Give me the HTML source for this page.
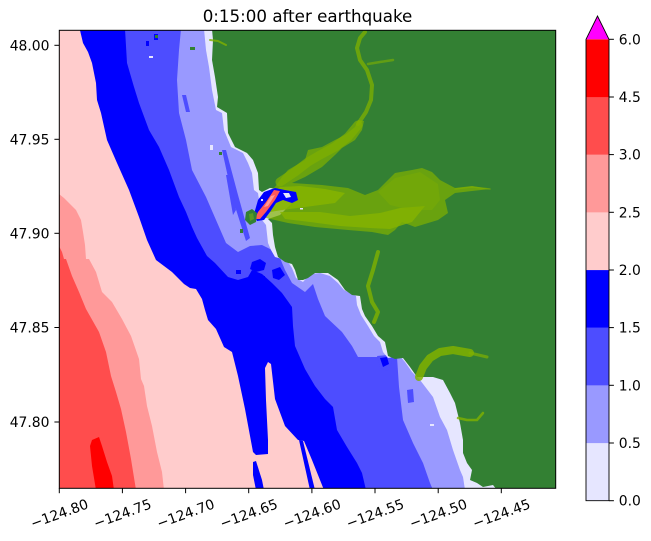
<!DOCTYPE html>
<html><head><meta charset="utf-8"><style>
html,body{margin:0;padding:0;background:#fff;}
svg{display:block;}
text{font-family:"DejaVu Sans","Liberation Sans",sans-serif;fill:#000;}
</style></head><body>
<svg width="651" height="541" viewBox="0 0 651 541" xmlns="http://www.w3.org/2000/svg">
<defs><clipPath id="pc"><rect x="59.3" y="30.3" width="496.4" height="458"/></clipPath></defs>
<rect width="651" height="541" fill="#fff"/>
<g clip-path="url(#pc)">
<rect x="59" y="30" width="498" height="460" fill="#ffcccc"/>
<polygon fill="#ff9999" points="59,194 64,198 69,203 76,210 81,220 83,232 85,245 86,259 89,259 96,272 102,292 112,302 122,319 131,336 139,359 141,379 144,386 147,406 152,426 157,452 162,472 164,490 59,490"/>
<polygon fill="#ff4d4d" points="59,246 62,252 64,259 66,259 72,276 79,292 86,309 99,332 106,352 111,376 116,392 121,409 126,432 131,459 136,490 59,490"/>
<polygon fill="#ff0000" points="90,446 92,440 99,437 102,446 107,462 112,476 114,490 96,490 92,466"/>
<polygon fill="#0000ff" points="79.7,29 83,43 88,52 92,63 96,83 97,100 101,113 107,140 117,163 129,190 139,217 147,240 156,260 172,272 184,284 190,288 196,289 202,299 205,310 208,320 216,329 224,347 232,352 238,376 245,409 253,452 256,455 268,454 268,440 266,400 265,368 268,362 271,364 275,399 285,426 298,440 304,441 312,460 318,475 324,490 557,490 557,29"/>
<polygon fill="#0000ff" points="299,440 303,441 315,490 310,490"/>
<polygon fill="#0000ff" points="253,462 256,461 262,480 264,490 256,490 253,475"/>
<polygon fill="#4d4dff" points="125,29 127,63 134,87 139,103 149,130 159,147 169,170 179,197 186,212 192,227 197,238 202,247 207,256 215,263 228,277 238,280 248,277 252,270 262,274 272,283 282,293 292,307 293,326 295,346 305,369 315,386 325,399 333,407 337,430 347,447 357,463 362,473 366,490 557,490 557,29"/>
<g fill="#0000ff">
<rect x="146" y="41" width="3" height="5"/><rect x="154" y="34" width="4" height="6"/>
<polygon points="252,262 260,259 266,263 264,270 256,272 250,269"/>
<polygon points="272,270 280,267 285,275 279,280 273,278"/>
<rect x="236" y="270" width="5" height="4"/><rect x="262" y="276" width="3" height="5"/><rect x="246" y="282" width="3" height="4"/>
</g>
<polygon fill="#9999ff" points="181,29 179,50 177,80 179,113 186,140 192,170 206,197 216,220 226,243 238,252 250,246 262,245 272,250 280,258 285,270 292,283 305,292 313,284 318,299 325,316 342,332 352,346 358,357 397,357 399,387 403,420 413,443 423,463 430,483 433,490 557,490 557,29"/>
<g fill="#4d4dff">
<polygon points="222,150 226,150 238,195 250,238 246,241 233,200"/>
<polygon points="226,175 230,175 236,210 233,215"/>
<polygon points="182,95 186,95 190,112 186,112"/>
<polygon points="407,390 413,389 414,402 408,403"/>
<polygon points="377,356 388,355 392,362 388,371 380,368"/>
</g>
<polygon fill="#0000ff" points="380,358 387,357 389,364 383,367"/>
<polygon fill="#e6e6ff" points="204,29 206,50 209,67 212,90 216,110 222,113 224,130 231,147 243,153 248,163 252,173 254,190 258,193 262,220 266,225 268,243 271,250 275,257 282,259 288,262 292,268 296,278 303,282 310,274 320,273 330,276 338,283 344,290 350,293 356,296 357,305 361,315 368,326 374,336 380,342 383,352 388,358 400,356 405,362 412,372 420,380 433,397 440,417 447,430 453,450 460,470 463,477 465,490 557,490 557,29"/>
<polygon fill="#338033" points="212,29 213,40 212,60 215,77 218,97 217,107 227,113 228,133 235,147 247,153 253,160 258,173 259,190 262,192 270,188 290,190 295,200 280,215 268,219 272,223 273,235 275,247 278,257 285,262 292,264 295,270 298,280 303,280 308,278 315,273 328,273 338,280 345,290 352,295 360,296 362,309 365,316 372,326 378,336 385,342 388,356 395,359 403,358 410,367 417,377 433,377 443,380 450,393 455,403 460,423 463,440 463,453 467,463 472,470 470,480 477,483 483,487 493,485 497,490 557,490 557,29"/>
<!-- rivers -->
<polygon fill="#80b000" opacity="0.7" points="262,196 270,190 275,187 282,177 288,170 305,160 308,150 322,147 335,140 345,135 355,127 358,120 364,121 362,130 355,140 342,148 335,155 322,167 305,177 292,183 322,185 348,188 365,195 378,190 395,173 412,170 422,168 432,172 440,180 455,188 472,186 490,189 472,191 455,193 445,200 448,213 438,220 415,227 402,222 395,230 388,235 372,232 348,230 315,227 288,223 275,220 262,217"/>
<polygon fill="#86b400" opacity="0.85" points="266,196 280,187 300,186 325,189 345,193 335,203 305,207 282,210 270,212"/>
<polygon fill="#86b400" opacity="0.8" points="280,212 320,212 350,216 380,213 400,208 425,206 412,222 390,229 370,228 340,226 310,222 285,219"/>
<polygon fill="#80b000" opacity="0.4" points="378,192 395,178 420,172 438,184 440,200 432,210 410,210 390,205"/>
<g fill="none" stroke="#80b000" stroke-linecap="round" stroke-linejoin="round">
<polyline stroke-width="9" opacity="0.7" points="280,182 295,172 308,162 320,155 335,147 348,137 358,125"/>
<polyline stroke-width="4" opacity="0.75" points="358,124 366,112 371,100 372,85 367,70 360,60 357,48 360,38 365,32"/>
<polyline stroke-width="2.5" opacity="0.6" points="368,64 380,62 393,60"/>
<polyline stroke-width="1.5" opacity="0.6" points="455,189 472,187 490,189"/>
<polyline stroke-width="4" opacity="0.8" points="378,252 373,270 368,286 372,302 378,312 374,322"/>
<polyline stroke-width="8" opacity="0.85" points="419,377 423,367 430,358 440,352 453,350 470,353"/>
<polyline stroke-width="3" opacity="0.7" points="470,353 487,357"/>
<polyline stroke-width="2.5" opacity="0.8" points="458,418 467,420 477,420 483,413"/>
<polyline stroke-width="2" opacity="0.8" points="210,40 218,41 226,45"/>
</g>
<!-- river mouth -->
<polygon fill="#0000ff" points="258,200 264,192 275,188 285,190 296,192 298,200 292,203 283,200 276,203 270,212 264,220 257,221 254,214"/>
<polygon fill="#e6e6ff" points="283,193 289,193 291,197 286,198"/>
<rect x="266" y="205" width="2" height="2" fill="#e6e6ff"/><rect x="261" y="199" width="2" height="2" fill="#e6e6ff"/>
<polygon fill="#ff5a5a" points="274,190 280,191 275,200 266,212 260,219 255,219 258,212 266,202"/>
<polygon fill="#ff9999" points="271,196 275,195 268,206 264,207"/>
<polygon fill="#338033" points="246,212 252,209 257,213 256,222 250,225 245,220"/>
<polygon fill="#5a9a22" points="249,214 253,213 254,219 250,221"/>
<g fill="#338033"><rect x="155" y="35" width="3" height="3"/><rect x="190" y="47" width="5" height="3"/><rect x="219" y="152" width="3" height="3"/><rect x="240" y="229" width="3" height="4"/></g>
<g fill="#e6e6ff"><rect x="149" y="56" width="4" height="2"/><rect x="210" y="145" width="3" height="5"/><rect x="430" y="424" width="4" height="2"/><rect x="300" y="208" width="3" height="1.5"/></g>
</g>
<rect x="59.3" y="30.3" width="496.4" height="458" fill="none" stroke="#000" stroke-width="1"/>
<!-- title -->
<text x="307.5" y="22" font-size="16.7" text-anchor="middle">0:15:00 after earthquake</text>
<!-- ticks -->
<g stroke="#000" stroke-width="1">
<line x1="54.4" y1="45.3" x2="59.3" y2="45.3"/><line x1="54.4" y1="139.3" x2="59.3" y2="139.3"/><line x1="54.4" y1="233.3" x2="59.3" y2="233.3"/><line x1="54.4" y1="327.5" x2="59.3" y2="327.5"/><line x1="54.4" y1="422" x2="59.3" y2="422"/>
<line x1="59.3" y1="488.3" x2="59.3" y2="493.2"/><line x1="122.4" y1="488.3" x2="122.4" y2="493.2"/><line x1="185.6" y1="488.3" x2="185.6" y2="493.2"/><line x1="248.7" y1="488.3" x2="248.7" y2="493.2"/><line x1="311.9" y1="488.3" x2="311.9" y2="493.2"/><line x1="375" y1="488.3" x2="375" y2="493.2"/><line x1="438.2" y1="488.3" x2="438.2" y2="493.2"/><line x1="501.3" y1="488.3" x2="501.3" y2="493.2"/>
</g>
<g font-size="13.9" text-anchor="end">
<text x="49.5" y="50.3">48.00</text><text x="49.5" y="144.3">47.95</text><text x="49.5" y="238.3">47.90</text><text x="49.5" y="332.5">47.85</text><text x="49.5" y="427">47.80</text>
</g>
<g font-size="13.9" text-anchor="middle">
<text x="59.3" y="518.5" transform="rotate(-20 59.3 513.5)">−124.80</text>
<text x="122.4" y="518.5" transform="rotate(-20 122.4 513.5)">−124.75</text>
<text x="185.6" y="518.5" transform="rotate(-20 185.6 513.5)">−124.70</text>
<text x="248.7" y="518.5" transform="rotate(-20 248.7 513.5)">−124.65</text>
<text x="311.9" y="518.5" transform="rotate(-20 311.9 513.5)">−124.60</text>
<text x="375" y="518.5" transform="rotate(-20 375 513.5)">−124.55</text>
<text x="438.2" y="518.5" transform="rotate(-20 438.2 513.5)">−124.50</text>
<text x="501.3" y="518.5" transform="rotate(-20 501.3 513.5)">−124.45</text>
</g>
<!-- colorbar -->
<rect x="586" y="443" width="23" height="57.7" fill="#e6e6ff"/>
<rect x="586" y="385.3" width="23" height="57.8" fill="#9999ff"/>
<rect x="586" y="327.6" width="23" height="57.8" fill="#4d4dff"/>
<rect x="586" y="270" width="23" height="57.7" fill="#0000ff"/>
<rect x="586" y="212.3" width="23" height="57.8" fill="#ffcccc"/>
<rect x="586" y="154.6" width="23" height="57.8" fill="#ff9999"/>
<rect x="586" y="97" width="23" height="57.7" fill="#ff4d4d"/>
<rect x="586" y="39.3" width="23" height="57.8" fill="#ff0000"/>
<polygon points="586,39.3 597.5,16 609,39.3" fill="#ff00ff"/>
<polygon points="586,500.7 586,39.3 597.5,16 609,39.3 609,500.7" fill="none" stroke="#000" stroke-width="0.9"/>
<g stroke="#000" stroke-width="1">
<line x1="609" y1="500.7" x2="613.9" y2="500.7"/><line x1="609" y1="443" x2="613.9" y2="443"/><line x1="609" y1="385.3" x2="613.9" y2="385.3"/><line x1="609" y1="327.6" x2="613.9" y2="327.6"/><line x1="609" y1="270" x2="613.9" y2="270"/><line x1="609" y1="212.3" x2="613.9" y2="212.3"/><line x1="609" y1="154.6" x2="613.9" y2="154.6"/><line x1="609" y1="97" x2="613.9" y2="97"/><line x1="609" y1="39.3" x2="613.9" y2="39.3"/>
</g>
<g font-size="13.9">
<text x="618.8" y="505.7">0.0</text><text x="618.8" y="448">0.5</text><text x="618.8" y="390.3">1.0</text><text x="618.8" y="332.6">1.5</text><text x="618.8" y="275">2.0</text><text x="618.8" y="217.3">2.5</text><text x="618.8" y="159.6">3.0</text><text x="618.8" y="102">4.5</text><text x="618.8" y="44.3">6.0</text>
</g>
</svg>
</body></html>
